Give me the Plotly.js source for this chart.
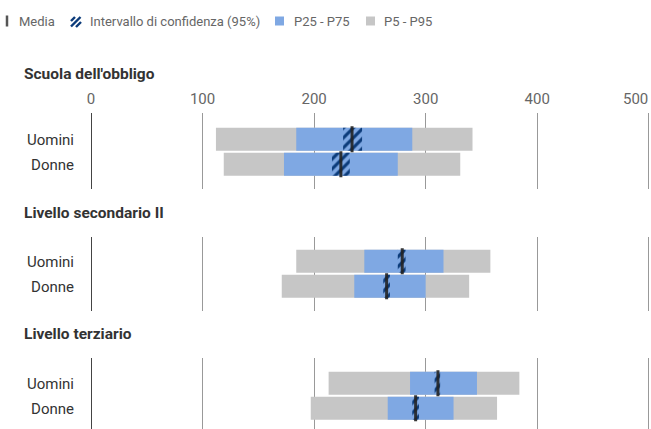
<!DOCTYPE html>
<html><head><meta charset="utf-8">
<script src="https://cdn.plot.ly/plotly-3.0.1.min.js"></script>
<style>html,body{margin:0;padding:0;background:#fff}#chart{width:651px;height:429px}</style>
</head><body><div id="chart"></div>
<script>
// ---- data ----
var groups = ["Scuola dell'obbligo", "Livello secondario II", "Livello terziario"];
var sexes = ["Uomini", "Donne"];
var p5   = [[112, 119], [184, 171], [213, 197]];
var p25  = [[184, 173], [245, 236], [286, 266]];
var p75  = [[288, 275], [316, 300], [346, 325]];
var p95  = [[342, 331], [358, 339], [384, 364]];
var ciLo = [[226, 216], [275, 262], [308, 288]];
var ciHi = [[243, 232], [282, 268], [313, 294]];
var media = [[234, 224], [279, 265], [311, 291]];
var xTicks = [0, 100, 200, 300, 400, 500];
var xTickText = ['0', '100', '200', '300', '400', '500'];

// ---- style ----
var W = 651, H = 429, ML = 91, MR = 0;
var PW = W - ML - MR;
var XMAX = 502;
function px(x) { return (x - ML) / PW; }
function py(y) { return 1 - y / H; }
var GREY = '#c6c6c6', BLUE = '#7fa8e3', NAVY = '#0b3b7a', MEAN = 'rgba(35,35,35,0.9)';
var BW = 0.92;
var FONT = 'Roboto, "Open Sans", sans-serif';

function diff(a, b) { return a.map(function (v, i) { return b[i] - v; }); }

var traces = [];
var yDomains = [[py(189), py(113)], [py(311), py(237)], [0, py(358)]];
var yRanges = [[1.99, -1.05], [1.99, -0.97], [1.83, -1.01]];
groups.forEach(function (g, k) {
  var ya = k === 0 ? 'y' : 'y' + (k + 1);
  traces.push({type: 'bar', orientation: 'h', yaxis: ya, xaxis: 'x', y: sexes,
    base: p5[k], x: diff(p5[k], p95[k]), width: BW,
    marker: {color: GREY, line: {width: 0}}, hoverinfo: 'skip', showlegend: false});
  traces.push({type: 'bar', orientation: 'h', yaxis: ya, xaxis: 'x', y: sexes,
    base: p25[k], x: diff(p25[k], p75[k]), width: BW,
    marker: {color: BLUE, line: {width: 0}}, hoverinfo: 'skip', showlegend: false});
  traces.push({type: 'bar', orientation: 'h', yaxis: ya, xaxis: 'x', y: sexes,
    base: ciLo[k], x: diff(ciLo[k], ciHi[k]), width: BW,
    marker: {color: 'rgba(0,0,0,0)', line: {width: 0},
      pattern: {shape: '/', fgcolor: NAVY, bgcolor: 'rgba(0,0,0,0)', size: 7, solidity: 0.45}},
    hoverinfo: 'skip', showlegend: false});
  traces.push({type: 'scatter', mode: 'markers', yaxis: ya, xaxis: 'x', y: sexes, x: media[k],
    marker: {symbol: 'line-ns', size: 18.6, color: MEAN, line: {color: MEAN, width: 3}},
    hoverinfo: 'skip', showlegend: false, cliponaxis: false});
});

var layout = {
  width: W, height: H,
  margin: {l: ML, r: MR, t: 0, b: 0, pad: 0},
  paper_bgcolor: '#fff', plot_bgcolor: 'rgba(0,0,0,0)',
  font: {family: FONT, size: 15, color: '#666'},
  barmode: 'overlay', showlegend: false,
  xaxis: {range: [0, XMAX], side: 'top', anchor: 'y', tickvals: xTicks,
    ticktext: xTickText.map(function (t, i) { return i === xTickText.length - 1 ? '' : t; }),
    showgrid: true, gridcolor: '#999', gridwidth: 1,
    zeroline: true, zerolinecolor: '#444', zerolinewidth: 1,
    showline: false, ticks: 'outside', ticklen: 2, tickcolor: 'rgba(0,0,0,0)',
    tickfont: {size: 15, color: '#666'}, fixedrange: true},
  annotations: [], shapes: []
};
// last tick label, right-aligned to its gridline as in the reference
layout.annotations.push({text: xTickText[xTickText.length - 1], xref: 'x', yref: 'paper',
  x: xTicks[xTicks.length - 1], y: py(99), xanchor: 'right', yanchor: 'middle', showarrow: false,
  xshift: 1, font: {family: FONT, size: 15, color: '#666'}});

groups.forEach(function (g, k) {
  var key = k === 0 ? 'yaxis' : 'yaxis' + (k + 1);
  layout[key] = {domain: yDomains[k], range: yRanges[k], type: 'category',
    categoryarray: sexes, anchor: 'x', showgrid: false, zeroline: false, showline: false,
    ticks: 'outside', ticklen: 13, tickcolor: 'rgba(0,0,0,0)',
    tickfont: {size: 15, color: '#333'}, fixedrange: true};
});
var titleY = [74, 213, 334];
groups.forEach(function (g, k) {
  layout.annotations.push({text: '<b>' + g + '</b>', xref: 'paper', yref: 'paper',
    x: px(22), y: py(titleY[k]), xanchor: 'left', yanchor: 'middle', showarrow: false,
    font: {family: FONT, size: 15.5, color: '#333'}});
});

// ---- manual legend ----
var LY = 21;
var legendItems = [
  {text: 'Media', x: 17},
  {text: 'Intervallo di confidenza (95%)', x: 88},
  {text: 'P25 - P75', x: 292},
  {text: 'P5 - P95', x: 382}
];
legendItems.forEach(function (it) {
  layout.annotations.push({text: it.text, xref: 'paper', yref: 'paper', x: px(it.x), y: py(LY),
    xanchor: 'left', yanchor: 'middle', showarrow: false,
    font: {family: FONT, size: 13, color: '#666'}});
});
// Media icon
layout.shapes.push({type: 'line', xref: 'paper', yref: 'paper', x0: px(7), x1: px(7), y0: py(15.5), y1: py(26.5),
  line: {color: '#555', width: 2.5}});
// hatched icon
[[71, 21, 75, 17], [71, 26.5, 80.5, 17], [76, 27, 81, 22]].forEach(function (s) {
  layout.shapes.push({type: 'line', xref: 'paper', yref: 'paper', x0: px(s[0]), y0: py(s[1]), x1: px(s[2]), y1: py(s[3]),
    line: {color: NAVY, width: 2.4}});
});
layout.shapes.push({type: 'rect', xref: 'paper', yref: 'paper', x0: px(275), x1: px(284), y0: py(16.5), y1: py(25.5),
  fillcolor: BLUE, line: {width: 0}});
layout.shapes.push({type: 'rect', xref: 'paper', yref: 'paper', x0: px(366), x1: px(375), y0: py(16.5), y1: py(25.5),
  fillcolor: GREY, line: {width: 0}});

Plotly.newPlot('chart', traces, layout, {displayModeBar: false, staticPlot: true});
</script>
</body></html>
